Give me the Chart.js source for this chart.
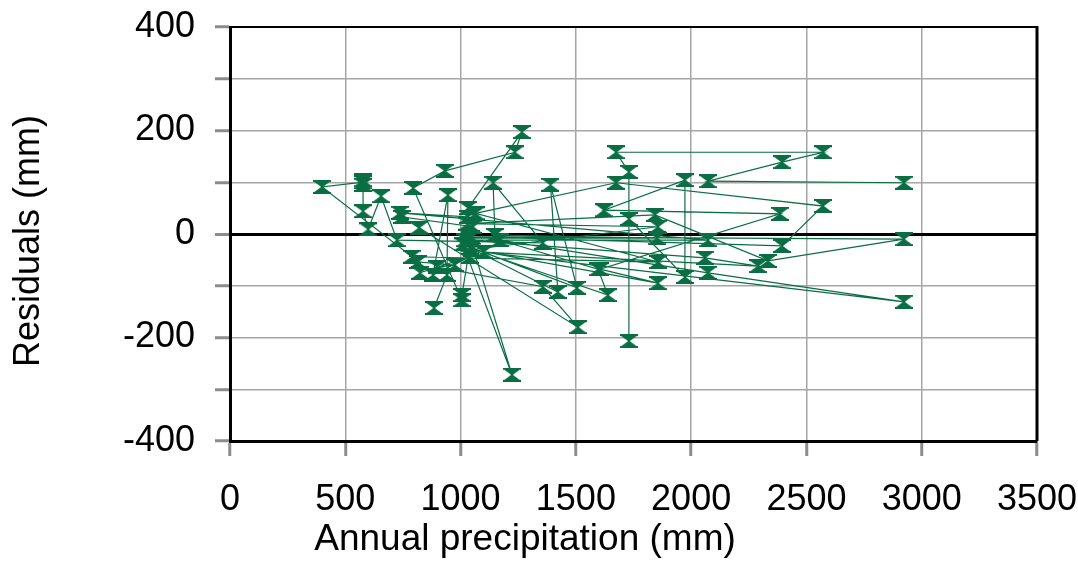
<!DOCTYPE html>
<html>
<head>
<meta charset="utf-8">
<script src="https://cdn.jsdelivr.net/npm/chart.js@4/dist/chart.umd.min.js"></script>
<style>
  html, body { margin: 0; padding: 0; background: #fff; }
  #wrap { width: 1078px; height: 562px; }
</style>
</head>
<body>
<div id="wrap"><canvas id="chart" width="1078" height="562"></canvas></div>
<script>
// Annual precipitation (mm) of each station, in plotting order
const precipitation = [
  2923, 2073, 2394, 2572, 1674, 1730, 1730, 1730, 1973, 1973,
  1622, 2385, 1605, 1856, 1050, 1856, 1030, 1843, 2333, 2923,
  1045, 2394, 2572, 1674, 1065, 1856, 789, 399, 577, 577,
  577, 577, 599, 655, 724, 1357, 1141, 1149, 1852, 1041,
  1223, 1010, 1505, 1390, 1422, 1041, 1639, 1596, 1170, 2073,
  2923, 1100, 2290, 2060, 1020, 2073, 737, 1032, 1032, 1266,
  1236, 932, 794, 1006, 1006, 1054, 746, 820, 1509, 1357,
  898, 976, 815, 824, 1041, 880, 945, 941, 885
];
// Model residuals (mm) for the same stations
const residuals = [
  99, 102, 139, 158, 158, 120, -207, 29, -83, 104,
  46, 39, -68, -95, -30, 14, 20, 37, -52, -10,
  -5, -23, 54, 99, 40, -54, -44, 91, 100, 104,
  95, 44, 9, 73, -12, -17, 99, -2, -8, -8,
  -272, -20, -104, 95, -112, -27, -118, -68, -12, -75,
  -131, -35, -62, -46, -12, -12, 41, 33, 50, 197,
  158, 122, 89, -128, -118, 14, 33, 12, -180, -102,
  -64, -60, -54, -75, -44, -79, 75, -79, -143
];
// Axis ranges and tick steps
const xRange = [0, 3500];
const yRange = [-400, 400];
const xStep = 500;
const yStep = 100;
const yLabelStep = 200;
const xTitle = 'Annual precipitation (mm)';
const yTitle = 'Residuals (mm)';

const green = '#0a6e45';
const fontFamily = "'Liberation Sans', Arial, sans-serif";

// Hourglass marker: flat bars top and bottom, triangles meeting at the centre
function hourglass(w, h, color) {
  const c = document.createElement('canvas');
  c.width = w; c.height = h;
  const g = c.getContext('2d');
  g.fillStyle = color;
  g.fillRect(0, 0, w, 2);
  g.fillRect(0, h - 2, w, 2);
  g.beginPath();
  g.moveTo(0, 1); g.lineTo(w, 1); g.lineTo(w / 2 + 0.8, h / 2); g.lineTo(w / 2 - 0.8, h / 2);
  g.closePath(); g.fill();
  g.beginPath();
  g.moveTo(0, h - 1); g.lineTo(w, h - 1); g.lineTo(w / 2 + 0.8, h / 2); g.lineTo(w / 2 - 0.8, h / 2);
  g.closePath(); g.fill();
  return c;
}
const marker = hourglass(18, 14, green);

const points = precipitation.map((x, i) => ({ x: x, y: residuals[i] }));

// Plot frame (thin top edge, heavy right edge) and the two axis titles
const frame = {
  id: 'frame',
  afterDatasetsDraw(chart) {
    const { ctx, chartArea: a } = chart;
    ctx.save();
    ctx.strokeStyle = '#000';
    ctx.lineWidth = 2;
    ctx.beginPath();
    ctx.moveTo(a.left, a.top); ctx.lineTo(a.right, a.top);
    ctx.stroke();
    ctx.lineWidth = 3;
    ctx.beginPath();
    ctx.moveTo(a.right, a.top - 1); ctx.lineTo(a.right, a.bottom);
    ctx.stroke();
    ctx.restore();
  },
  afterDraw(chart) {
    const { ctx } = chart;
    ctx.save();
    ctx.fillStyle = '#000';
    ctx.textAlign = 'center';
    ctx.textBaseline = 'middle';
    ctx.font = `37px ${fontFamily}`;
    ctx.fillText(xTitle, 525, 540);
    ctx.translate(29, 241);
    ctx.rotate(-Math.PI / 2);
    ctx.font = `36px ${fontFamily}`;
    ctx.fillText(yTitle, 0, 0);
    ctx.restore();
  }
};

new Chart(document.getElementById('chart'), {
  type: 'scatter',
  data: {
    datasets: [{
      data: points,
      showLine: true,
      borderColor: green,
      borderWidth: 1.2,
      pointStyle: marker,
      backgroundColor: green
    }]
  },
  options: {
    responsive: false,
    animation: false,
    layout: { autoPadding: false, padding: { top: 27, right: 41, left: 0, bottom: 0 } },
    plugins: { legend: { display: false }, tooltip: { enabled: false } },
    scales: {
      x: {
        type: 'linear',
        min: xRange[0], max: xRange[1],
        afterFit(s) { s.height = 121; s.paddingLeft = 0; s.paddingRight = 0; },
        ticks: {
          stepSize: xStep,
          color: '#000',
          padding: 22,
          maxRotation: 0,
          font: { family: fontFamily, size: 36 },
          callback: v => String(v)
        },
        grid: {
          color: '#a6a6a6', lineWidth: 1.5,
          tickLength: 15, tickColor: '#8c8c8c', tickWidth: 3
        },
        border: { display: true, color: '#000', width: 3 }
      },
      y: {
        type: 'linear',
        min: yRange[0], max: yRange[1],
        afterFit(s) { s.width = 230; s.paddingTop = 0; s.paddingBottom = 0; },
        ticks: {
          stepSize: yStep,
          color: '#000',
          padding: 20,
          font: { family: fontFamily, size: 36 },
          callback: v => (v % yLabelStep === 0 ? String(v) : '')
        },
        grid: {
          color: c => (c.tick && c.tick.value === 0 ? '#000' : '#a6a6a6'),
          lineWidth: c => (c.tick && c.tick.value === 0 ? 3 : 1.5),
          tickLength: 15, tickColor: '#8c8c8c', tickWidth: 3
        },
        border: { display: true, color: '#000', width: 3 }
      }
    }
  },
  plugins: [frame]
});
</script>
</body>
</html>
